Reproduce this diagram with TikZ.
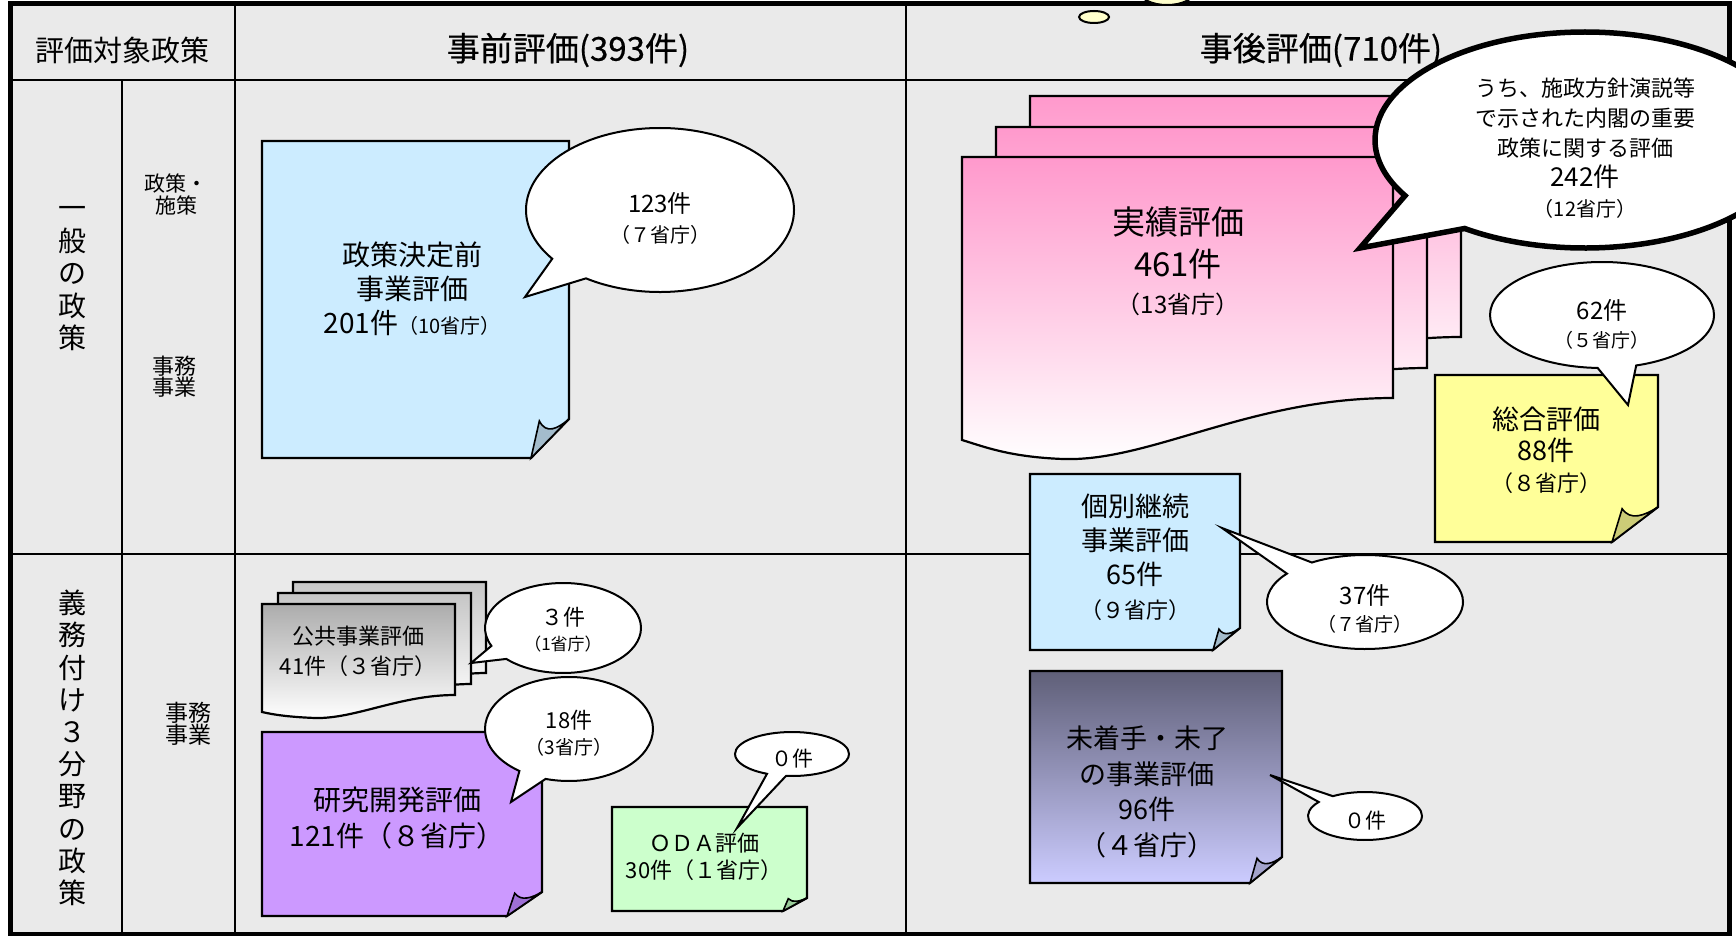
\documentclass[tikz,border=0pt]{standalone}
\usepackage{fontspec}
\setmainfont{Noto Sans CJK JP}
\newfontfamily\heavyjp[FakeBold=0.5]{Noto Sans CJK JP}
\usetikzlibrary{shapes.callouts,shapes.geometric}

\definecolor{cellgray}{HTML}{EAEAEA}
\definecolor{skyblue}{HTML}{CCECFF}
\definecolor{skyflap}{HTML}{A3BCCC}
\definecolor{lemon}{HTML}{FFFF99}
\definecolor{lemonflap}{HTML}{CCCC77}
\definecolor{lilac}{HTML}{CC99FF}
\definecolor{lilacflap}{HTML}{9E70D6}
\definecolor{mint}{HTML}{CCFFCC}
\definecolor{mintflap}{HTML}{99CC99}
\definecolor{slate}{HTML}{5F5F78}
\definecolor{periwinkle}{HTML}{CCCCFF}
\definecolor{periflap}{HTML}{A3A3CC}
\definecolor{rose}{HTML}{FF99CC}
\definecolor{cream}{HTML}{FFFFCC}

\newcommand{\fs}[2]{\fontsize{#1}{#2}\selectfont}
\newcommand{\foldpage}[8]{%
  \path[pageline, #7] (#1,#2) -- (#3,#2) -- (#3,{#4-#6}) -- ({#3-#5},#4) -- (#1,#4) -- cycle;
  \path[pageline, fill=#8, line width=1.6pt] ({#3-#5},#4) -- ({#3-0.78*#5},{#4-0.95*#6})
    .. controls ({#3-0.6*#5},{#4-0.6*#6}) and ({#3-0.3*#5},{#4-0.75*#6}) .. (#3,{#4-#6}) -- cycle;}
\newcommand{\pinkleaf}[1]{%
  \path[pageline, top color=rose, bottom color=white, shift={#1}] (962,157) -- (1393,157) -- (1393,398)
    .. controls (1250,398) and (1150,462) .. (1063,459) .. controls (1010,457) and (985,447) .. (962,440) -- cycle;}
\newcommand{\grayleaf}[2]{%
  \path[pageline, top color=#2, bottom color=white, shift={#1}] (262,604) -- (455,604) -- (455,695)
    .. controls (400,695) and (355,719) .. (315,718) .. controls (290,717) and (275,715) .. (262,712) -- cycle;}

\begin{document}
\begin{tikzpicture}[x=1pt, y=-1pt,
  pageline/.style={draw=black, line width=2.2pt},
  grid/.style={line width=2.2pt},
  bubble/.style={ellipse callout, draw=black, fill=white, line width=2pt, inner sep=0pt,
    callout pointer arc=20},
  pagetext/.style={align=center, inner sep=0pt},
  boldtext/.style={pagetext, font=\heavyjp}]
\useasboundingbox (0,0) rectangle (1736,936);
\fill[white] (0,0) rectangle (1736,936);
\fill[cellgray] (10,4) rectangle (1729,934);
\draw[grid] (10,80) -- (1729,80);
\draw[grid] (10,554) -- (1729,554);
\draw[grid] (122,80) -- (122,934);
\draw[grid] (235,4) -- (235,934);
\draw[grid] (906,4) -- (906,934);
\draw[line width=5pt] (10,4) rectangle (1729,934);
\filldraw[fill=cream, line width=2pt] (1094,17) ellipse [x radius=15, y radius=6];
\filldraw[fill=cream, line width=2pt] (1167,-8) ellipse [x radius=27, y radius=13];

\node[font=\fs{29}{32}] (hdrTarget) at (122,50) {評価対象政策};
\node[font=\heavyjp\fs{33}{36}] (hdrPre) at (568,50) {事前評価(393件)};
\node[font=\heavyjp\fs{33}{36}] (hdrPost) at (1321,50) {事後評価(710件)};
\node[boldtext, font=\fs{28}{32.5}] (rowGeneral) at (72,279) {一\\般\\の\\政\\策};
\node[boldtext, font=\fs{28}{32.2}] (rowDuty) at (72,748) {義\\務\\付\\け\\３\\分\\野\\の\\政\\策};
\node[pagetext, font=\fs{21}{22}] (subPolicy) at (176,194) {政策・\\施策};
\node[pagetext, font=\fs{22}{21}] (subTaskA) at (174,377) {事務\\事業};
\node[pagetext, font=\fs{23}{22}] (subTaskB) at (188,724) {事務\\事業};

\foldpage{262}{141}{569}{458}{38}{39}{fill=skyblue}{skyflap}
\node[boldtext, font=\fs{28}{34}] (txtPrePolicy) at (412,289) {政策決定前\\事業評価\\201件{\fs{20}{34}（10省庁）}};

\pinkleaf{(68,-61)}
\pinkleaf{(34,-30)}
\pinkleaf{(0,0)}
\node[boldtext, font=\fs{33}{42}] (txtResult) at (1178,261) {実績評価\\461件\\[-5pt]{\fs{24}{42}（13省庁）}};

\foldpage{1435}{375}{1658}{542}{46}{35}{fill=lemon}{lemonflap}
\node[boldtext, font=\fs{27}{31}] (txtOverall) at (1546,450) {総合評価\\88件\\{\fs{22}{31}（８省庁）}};

\foldpage{1030}{474}{1240}{650}{27}{22}{fill=skyblue}{skyflap}
\node[boldtext, font=\fs{27}{34}] (txtContinue) at (1135,557) {個別継続\\事業評価\\65件\\{\fs{22}{34}（９省庁）}};

\foldpage{1030}{671}{1282}{883}{32}{26}{top color=slate, bottom color=periwinkle}{periflap}
\node[boldtext, font=\fs{27}{35.7}] (txtUnstarted) at (1147,792) {未着手・未了\\の事業評価\\96件\\（４省庁）};

\grayleaf{(31,-22)}{gray!45}
\grayleaf{(16,-11)}{gray!45}
\grayleaf{(0,0)}{gray!65}
\node[boldtext, font=\fs{22}{30}] (txtPublic) at (358,651) {公共事業評価\\41件（３省庁）};

\foldpage{262}{732}{542}{916}{35}{24}{fill=lilac}{lilacflap}
\node[boldtext, font=\fs{28}{36}] (txtResearch) at (397,818) {研究開発評価\\121件（８省庁）};

\foldpage{612}{807}{807}{911}{24}{13}{fill=mint}{mintflap}
\node[boldtext, font=\fs{22}{27}] (txtODA) at (704,857) {ＯＤＡ評価\\30件（１省庁）};

\coordinate (tipA) at (525,297);
\coordinate (tipB) at (1360,248);
\coordinate (tipC) at (1628,405);
\coordinate (tipD) at (1222,528);
\coordinate (tipE) at (1270,775);
\coordinate (tipF) at (471,663);
\coordinate (tipG) at (511,802);
\coordinate (tipH) at (737,828);
\node[bubble, minimum width=268pt, minimum height=164pt, callout absolute pointer={(tipA)}] (bubA) at (660,210) {};
\node[pagetext, font=\fs{20}{30}, yshift=-8pt] (lblA) at (bubA.center) {{\fs{24}{30}123件}\\（７省庁）};
\node[bubble, minimum width=224pt, minimum height=106pt, callout absolute pointer={(tipC)}] (bubC) at (1602,315) {};
\node[pagetext, font=\fs{19}{28}, yshift=-9pt] (lblC) at (bubC.center) {{\fs{24}{28}62件}\\（５省庁）};
\node[bubble, minimum width=196pt, minimum height=94pt, callout absolute pointer={(tipD)}] (bubD) at (1365,602) {};
\node[pagetext, font=\fs{19}{27}, yshift=-7pt] (lblD) at (bubD.center) {{\fs{24}{27}37件}\\（７省庁）};
\node[bubble, minimum width=114pt, minimum height=48pt, callout absolute pointer={(tipE)}] (bubE) at (1365,816) {};
\node[pagetext, font=\fs{21}{24}, yshift=-5pt] (lblE) at (bubE.center) {０件};
\node[bubble, minimum width=156pt, minimum height=90pt, callout absolute pointer={(tipF)}] (bubF) at (563,628) {};
\node[pagetext, font=\fs{17}{25}, yshift=-2pt] (lblF) at (bubF.center) {{\fs{22}{25}３件}\\（1省庁）};
\node[bubble, minimum width=168pt, minimum height=104pt, callout absolute pointer={(tipG)}] (bubG) at (569,729) {};
\node[pagetext, font=\fs{19}{26}, yshift=-4pt] (lblG) at (bubG.center) {{\fs{22}{26}18件}\\（3省庁）};
\node[bubble, minimum width=114pt, minimum height=44pt, callout absolute pointer={(tipH)}] (bubH) at (792,754) {};
\node[pagetext, font=\fs{21}{24}, yshift=-5pt] (lblH) at (bubH.center) {０件};
\node[bubble, line width=5.5pt, callout pointer arc=24, minimum width=420pt, minimum height=216pt, callout absolute pointer={(tipB)}] (bubB) at (1585,140) {};
\node[pagetext, font=\fs{22}{30}, yshift=-8pt] (lblB) at (bubB.center) {うち、施政方針演説等\\で示された内閣の重要\\政策に関する評価\\{\fs{26}{30}242件}\\{\fs{20}{30}（12省庁）}};
\end{tikzpicture}
\end{document}
